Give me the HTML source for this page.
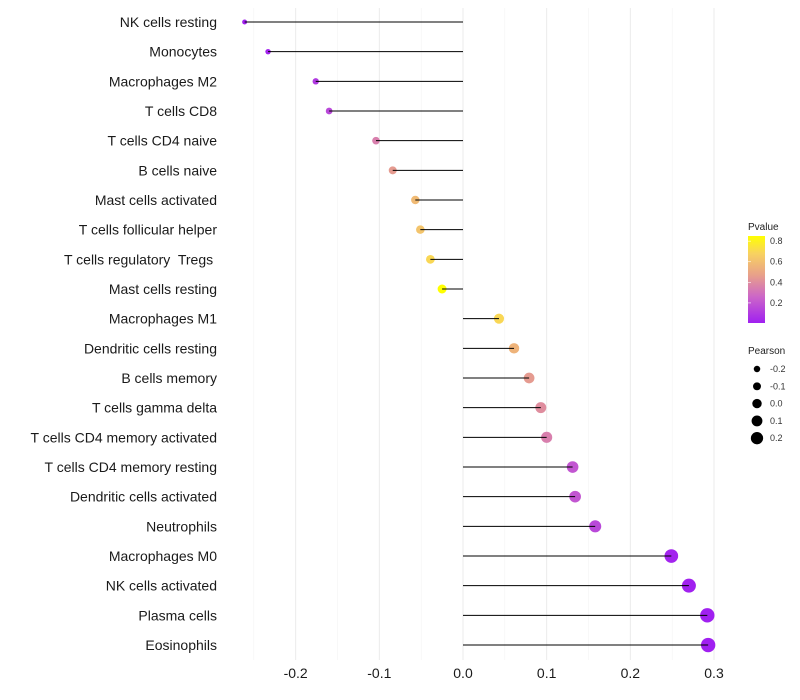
<!DOCTYPE html>
<html><head><meta charset="utf-8"><style>
body{margin:0;background:#fff;font-family:"Liberation Sans",sans-serif}
svg{display:block}
</style></head><body>
<svg id="chart" width="800" height="700">
<defs><linearGradient id="pg" x1="0" y1="1" x2="0" y2="0">
<stop offset="0" stop-color="#a020f0"/><stop offset="0.3" stop-color="#cc66c8"/><stop offset="0.55" stop-color="#e8a08a"/><stop offset="0.8" stop-color="#f8d260"/><stop offset="1" stop-color="#ffff00"/></linearGradient></defs>
<g id="grid"></g>
<g id="points"></g>
<g id="marks"></g>
<g id="labels"></g>
<g id="xticks"></g>
<g>
<text x="748" y="230" font-size="10" fill="#222">Pvalue</text>
<rect x="748" y="236" width="17" height="87" fill="url(#pg)"/>
<g id="pleg" font-size="9" fill="#333"></g>
</g>
<g id="sleg">
<text x="748" y="354" font-size="10" fill="#222">Pearson</text>
</g>
</svg>
<script>
const categories=["NK cells resting","Monocytes","Macrophages M2","T cells CD8","T cells CD4 naive","B cells naive","Mast cells activated","T cells follicular helper","T cells regulatory  Tregs ","Mast cells resting","Macrophages M1","Dendritic cells resting","B cells memory","T cells gamma delta","T cells CD4 memory activated","T cells CD4 memory resting","Dendritic cells activated","Neutrophils","Macrophages M0","NK cells activated","Plasma cells","Eosinophils"];
const pearson=[-0.261,-0.233,-0.176,-0.160,-0.104,-0.084,-0.057,-0.051,-0.039,-0.025,0.043,0.061,0.079,0.093,0.100,0.131,0.134,0.158,0.249,0.270,0.292,0.293];
const pvalues=[0.01,0.02,0.1,0.15,0.35,0.45,0.58,0.62,0.7,0.85,0.7,0.55,0.45,0.4,0.35,0.2,0.2,0.15,0.02,0.01,0.005,0.005];
const xTicks=[-0.2,-0.1,0.0,0.1,0.2,0.3];
const pTicks=[0.2,0.4,0.6,0.8];
const sizeTicks=[-0.2,-0.1,0.0,0.1,0.2];
const NS="http://www.w3.org/2000/svg";
const X=v=>463+v*836.7;
const Y=i=>22+i*29.667;
const R=v=>4.7+8.5*v;
const stops=[[0,[160,32,240]],[0.3,[204,102,200]],[0.55,[232,160,138]],[0.8,[248,210,96]],[1,[255,255,0]]];
function col(p){let t=Math.max(0,Math.min(1,(p-0.005)/0.845));for(let k=1;k<stops.length;k++){if(t<=stops[k][0]){const a=stops[k-1],b=stops[k],f=(t-a[0])/(b[0]-a[0]);return "rgb("+a[1].map((c,j)=>Math.round(c+(b[1][j]-c)*f)).join(",")+")";}}return "rgb(255,255,0)";}
function mk(tag,attrs,parent){const e=document.createElementNS(NS,tag);for(const k in attrs)e.setAttribute(k,attrs[k]);parent.appendChild(e);return e;}
const grid=document.getElementById('grid'),marks=document.getElementById('marks'),pts=document.getElementById('points'),labels=document.getElementById('labels'),xt=document.getElementById('xticks');
for(let v=-0.25;v<=0.301;v+=0.05){const minor=Math.abs(Math.round(v*20))%2;const g=mk('line',{x1:X(v),x2:X(v),y1:8,y2:660,stroke:minor?'#f3f3f3':'#ebebeb','stroke-width':minor?0.6:1},grid);

}
categories.forEach((c,i)=>{
const t=mk('text',{x:217,y:Y(i)+5,'text-anchor':'end','font-size':14,fill:'#1a1a1a',style:'white-space:pre'},labels);t.textContent=c;


const p=mk('circle',{cx:X(pearson[i]),cy:Y(i),r:R(pearson[i]),fill:col(pvalues[i])},pts);


const l=mk('line',{x1:X(0),x2:X(pearson[i]),y1:Y(i),y2:Y(i),stroke:'#000','stroke-width':1},marks);


});
xTicks.forEach(v=>{const t=mk('text',{x:X(v),y:678,'text-anchor':'middle','font-size':14,fill:'#1a1a1a'},xt);t.textContent=v.toFixed(1);

});
const pl=document.getElementById('pleg');
pTicks.forEach(v=>{const y=323-(v-0.005)/0.845*87;
const a=mk('line',{x1:748,x2:751,y1:y,y2:y,stroke:'#fff','stroke-width':0.6},pl);
const t=mk('text',{x:770,y:y+3},pl);t.textContent=v.toFixed(1);

});
const sl=document.getElementById('sleg');
sizeTicks.forEach((v,k)=>{const y=369+k*17.3;
const c=mk('circle',{cx:757,cy:y,r:R(v)*0.85+0.7,fill:'#000'},sl);


const t=mk('text',{x:770,y:y+3,'font-size':9,fill:'#333'},sl);t.textContent=v.toFixed(1);

});
</script>
</body></html>
